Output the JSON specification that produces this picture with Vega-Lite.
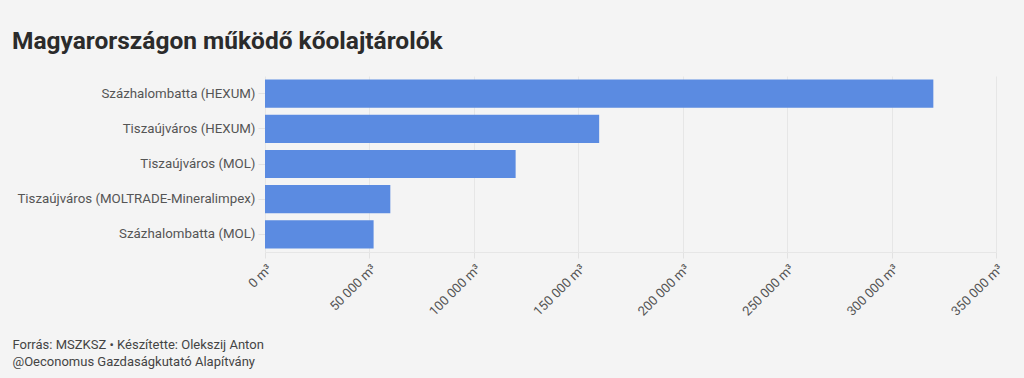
{
  "$schema": "https://vega.github.io/schema/vega-lite/v6.json",
  "autosize": {"type": "none"},
  "width": 731,
  "height": 176,
  "padding": {"left": 265, "top": 76, "right": 28, "bottom": 126},
  "background": "#f4f4f4",
  "title": {
    "text": "Magyarországon működő kőolajtárolók",
    "anchor": "start",
    "frame": "group",
    "dx": -253,
    "offset": 22,
    "font": "Roboto",
    "fontSize": 24.5,
    "fontWeight": 700,
    "color": "#2b2b2b"
  },
  "data": {
    "values": [
      {"tarolo": "Százhalombatta (HEXUM)", "kapacitas": 320000},
      {"tarolo": "Tiszaújváros (HEXUM)", "kapacitas": 160000},
      {"tarolo": "Tiszaújváros (MOL)", "kapacitas": 120000},
      {"tarolo": "Tiszaújváros (MOLTRADE-Mineralimpex)", "kapacitas": 60000},
      {"tarolo": "Százhalombatta (MOL)", "kapacitas": 52000}
    ]
  },
  "mark": {"type": "bar", "color": "#5b8be1"},
  "encoding": {
    "y": {
      "field": "tarolo",
      "type": "nominal",
      "sort": null,
      "scale": {"paddingInner": 0.2, "paddingOuter": 0.1},
      "axis": {
        "title": null,
        "grid": false,
        "domain": false,
        "ticks": true,
        "tickSize": 7,
        "tickColor": "#e2e2e2",
        "labelPadding": 3,
        "labelFont": "Roboto",
        "labelFontSize": 13.3,
        "labelColor": "#555555",
        "labelLimit": 300
      }
    },
    "x": {
      "field": "kapacitas",
      "type": "quantitative",
      "scale": {"domain": [0, 350000], "nice": false},
      "axis": {
        "grid": true,
        "values": [0, 50000, 100000, 150000, 200000, 250000, 300000, 350000],
        "labelExpr": "replace(format(datum.value, ','), regexp(',', 'g'), ' ') + ' m³'",
        "labelAngle": -45,
        "labelFont": "Roboto",
        "labelFontSize": 13,
        "labelColor": "#555555",
        "labelPadding": 4,
        "tickSize": 6,
        "tickColor": "#e2e2e2",
        "domainColor": "#e6e6e6",
        "gridColor": "#e6e6e6",
        "title": ["Forrás: MSZKSZ • Készítette: Olekszij Anton", "@Oeconomus Gazdaságkutató Alapítvány"],
        "titleAnchor": "start",
        "titleAlign": "left",
        "titleBaseline": "alphabetic",
        "titleX": -253,
        "titleY": 96,
        "titleFont": "Roboto",
        "titleFontSize": 13,
        "titleFontWeight": 400,
        "titleColor": "#444444",
        "titleLineHeight": 17
      }
    }
  },
  "config": {
    "view": {"stroke": null}
  }
}
